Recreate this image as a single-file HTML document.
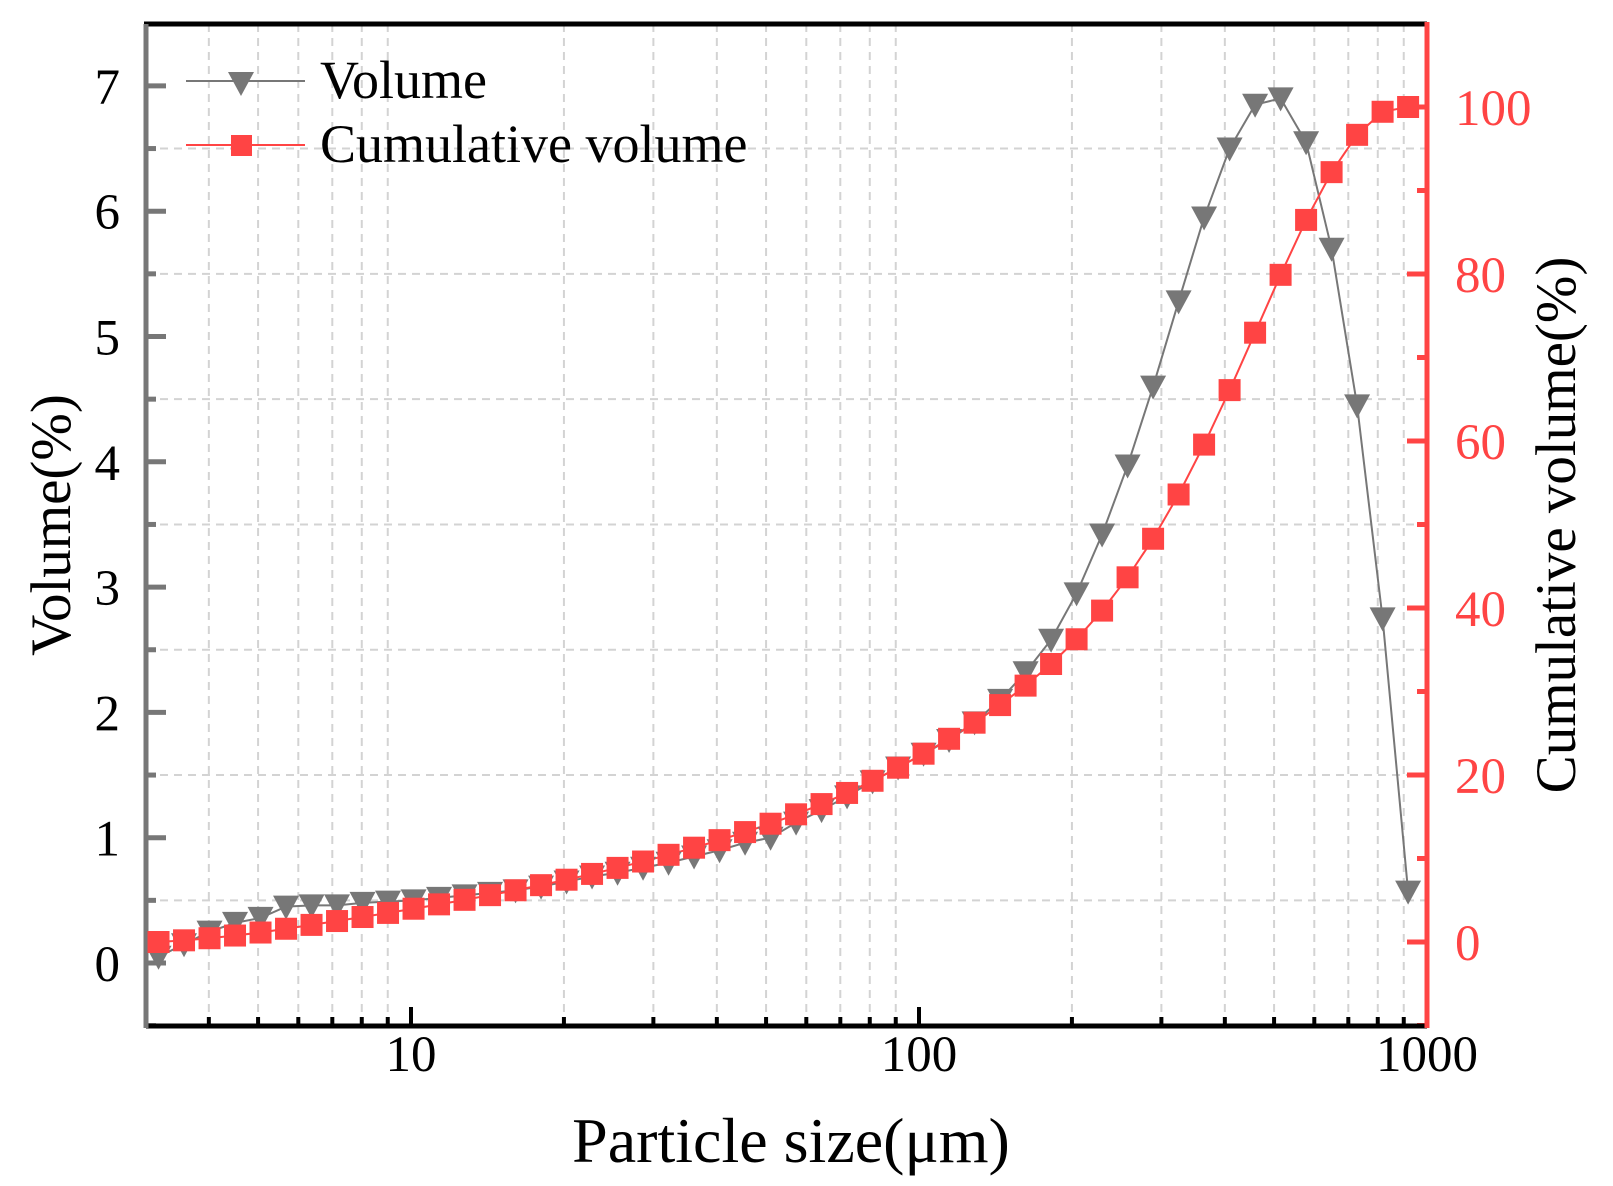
<!DOCTYPE html>
<html><head><meta charset="utf-8"><style>
body{margin:0;background:#fff;}
svg{display:block;font-family:"Liberation Serif",serif;}
</style></head><body>
<svg id="s" width="1613" height="1186" xmlns="http://www.w3.org/2000/svg"></svg>
<script>
const L=146,R=1427,T=24,B=1026;
const xs=l=>411+(l-1)*508;
const yl=v=>963-125.3*v;
const yr=c=>942-8.35*c;
let h='';
for(let d=0;d<3;d++)for(let m=1;m<10;m++){const l=d+Math.log10(m);if(l<0.476||(m==1))continue;const x=xs(l);if(x<=L+2||x>=R-1)continue;
h+=`<line x1="${x}" y1="${T}" x2="${x}" y2="${B}" stroke="#d3d3d3" stroke-width="2" stroke-dasharray="8,6"/>`;}
for(let v=-0.5;v<=7.5;v+=1){const y=yl(v);if(y>=B-2||y<=T+2)continue;h+=`<line x1="${L}" y1="${y}" x2="${R}" y2="${y}" stroke="#d3d3d3" stroke-width="2" stroke-dasharray="8,6"/>`;}
for(let d=0;d<3;d++)for(let m=1;m<10;m++){const l=d+Math.log10(m);const x=xs(l);if(x<=L+2||x>R)continue;const len=m==1?19:9;
h+=`<line x1="${x}" y1="${B}" x2="${x}" y2="${B-len}" stroke="#000" stroke-width="4"/>`;}
[[10,1],[100,2],[1000,3]].forEach(([t,l])=>{h+=`<text x="${xs(l)}" y="1071" font-size="51" text-anchor="middle">${t}</text>`;});
for(let v=-0.5;v<=7.5;v+=0.5){const y=yl(v);if(y>B||y<T)continue;const maj=Math.abs(v-Math.round(v))<0.01;
h+=`<line x1="${L}" y1="${y}" x2="${L+(maj?20:10)}" y2="${y}" stroke="#777" stroke-width="5"/>`;
if(maj)h+=`<text x="120" y="${y+18}" font-size="51" text-anchor="end">${Math.round(v)}</text>`;}
for(let c=-10;c<=110;c+=10){const y=yr(c);if(y>B||y<T)continue;const maj=c%20==0;
h+=`<line x1="${R}" y1="${y}" x2="${R-(maj?20:10)}" y2="${y}" stroke="#f44" stroke-width="5"/>`;
if(maj)h+=`<text x="1455" y="${y+18}" font-size="51" fill="#f44">${c}</text>`;}
h+=`<line x1="${L-2}" y1="${T}" x2="${R}" y2="${T}" stroke="#000" stroke-width="5"/>`;
h+=`<line x1="${L}" y1="${B}" x2="${R}" y2="${B}" stroke="#000" stroke-width="5"/>`;
h+=`<line x1="${L}" y1="${T}" x2="${L}" y2="${B+2}" stroke="#777" stroke-width="5"/>`;
h+=`<line x1="${R}" y1="${T-2}" x2="${R}" y2="${B+2}" stroke="#f44" stroke-width="5"/>`;
const v=[0.05,0.15,0.25,0.32,0.36,0.45,0.46,0.46,0.48,0.49,0.5,0.52,0.54,0.56,0.58,0.61,0.65,0.69,0.72,0.76,0.8,0.85,0.9,0.96,1.0,1.12,1.22,1.33,1.45,1.56,1.67,1.78,1.92,2.1,2.32,2.58,2.95,3.42,3.97,4.6,5.28,5.95,6.5,6.85,6.9,6.55,5.7,4.45,2.75,0.57];
const tot=v.reduce((a,b)=>a+b,0);let s=0;const c=v.map(x=>(s+=x)/tot*100);c[0]=0;
const px=v.map((_,k)=>xs(0.503+0.0502*k));
h+=`<polyline fill="none" stroke="#777" stroke-width="2" points="${v.map((y,k)=>px[k]+','+yl(y)).join(' ')}"/>`;
h+=`<polyline fill="none" stroke="#f44" stroke-width="2" points="${c.map((y,k)=>px[k]+','+yr(y)).join(' ')}"/>`;
v.forEach((y,k)=>{const X=px[k],Y=yl(y);h+=`<polygon points="${X-13},${Y-11} ${X+13},${Y-11} ${X},${Y+13}" fill="#777"/>`;});
c.forEach((y,k)=>{const X=px[k],Y=yr(y);h+=`<rect x="${X-11}" y="${Y-11}" width="22" height="22" fill="#f44"/>`;});
h+=`<line x1="186" y1="81" x2="305" y2="81" stroke="#777" stroke-width="2"/><polygon points="228,72 254,72 241,96" fill="#777"/>`;
h+=`<text x="320" y="98" font-size="54">Volume</text>`;
h+=`<line x1="186" y1="145" x2="305" y2="145" stroke="#f44" stroke-width="2"/><rect x="231" y="135" width="21" height="21" fill="#f44"/>`;
h+=`<text x="320" y="162" font-size="54">Cumulative volume</text>`;
h+=`<text x="791" y="1162" font-size="64" text-anchor="middle">Particle size(μm)</text>`;
h+=`<text transform="translate(70,525) rotate(-90)" font-size="57" text-anchor="middle">Volume(%)</text>`;
h+=`<text transform="translate(1575,525) rotate(-90)" font-size="57" text-anchor="middle">Cumulative volume(%)</text>`;
document.getElementById('s').innerHTML=h;
</script>
</body></html>
